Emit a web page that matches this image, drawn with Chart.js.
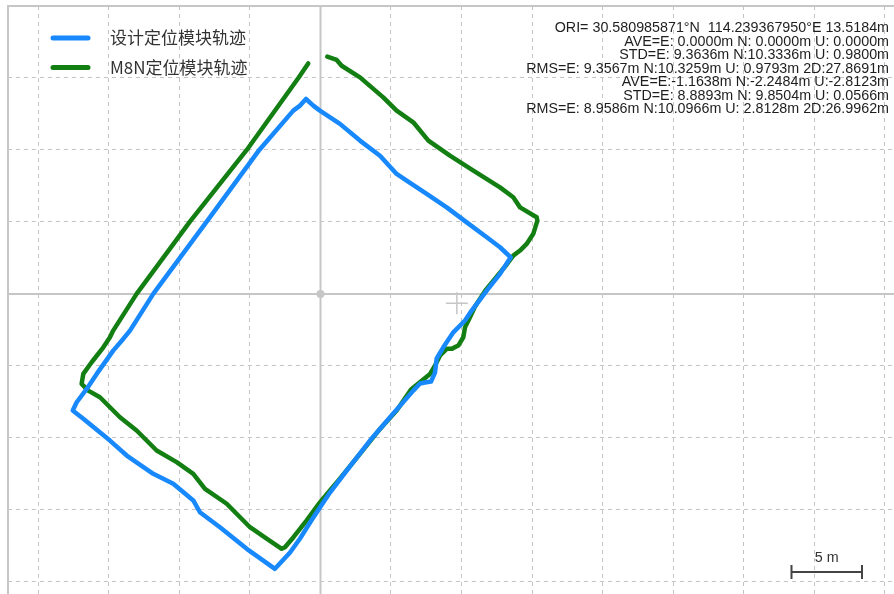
<!DOCTYPE html>
<html>
<head>
<meta charset="utf-8">
<script src="https://cdn.jsdelivr.net/npm/chart.js@4.4.0/dist/chart.umd.min.js"></script>
<style>
  html, body { margin: 0; padding: 0; background: #fff; overflow: hidden; }
  #wrap { width: 894px; height: 594px; }
</style>
</head>
<body>
<div id="wrap"><canvas id="trilha" width="894" height="594"></canvas></div>
<script>
(function () {

  const labels = ["设计定位模块轨迹", "M8N定位模块轨迹"];

  // trajetoria do modulo projetado (E / N em metros)
  const designE = [13.49, 12.73, 11.79, 10.72, 10.25, 9.42, 8.71, 8.24, 8.12, 7.84, 7.41, 7.06, 6.58,
    4.93, 3.51, 1.86, 0.67, -0.04, -0.74, -1.45, -2.16, -3.23, -5.23, -7.13, -8.55, -9.02, -10.44,
    -11.86, -13.74, -14.93, -16.82, -17.57, -17.29, -16.58, -15.87, -14.70, -13.99, -13.51, -11.86,
    -8.07, -4.34, -1.93, -1.45, -1.03, -0.51, -0.04, 1.38, 2.80, 4.22, 5.40, 6.11, 7.53, 8.95, 10.37,
    11.79, 12.73, 13.49];
  const designN = [2.54, 1.39, 0.23, -1.16, -1.85, -2.67, -3.71, -4.49, -5.47, -6.09, -6.16, -6.23, -6.72,
    -8.57, -10.19, -12.27, -13.80, -14.84, -15.88, -16.99, -17.97, -19.10, -17.71, -16.21, -15.17, -14.35,
    -13.19, -12.50, -11.23, -10.19, -8.68, -8.10, -7.53, -6.60, -5.56, -3.94, -3.13, -2.55, 0.00,
    5.02, 10.00, 12.73, 13.08, 13.54, 13.08, 12.73, 11.81, 10.65, 9.60, 8.33, 7.87, 6.94, 6.01, 4.97,
    3.93, 3.24, 2.54];

  // trajetoria do M8N
  const m8nE = [0.48, 1.15, 1.50, 2.80, 4.45, 5.40, 6.58, 7.65, 9.18, 10.84, 12.73, 13.67, 14.15, 15.33,
    15.38, 15.09, 14.62, 14.15, 13.67, 13.09, 12.38, 11.74, 10.96, 10.60, 10.25, 10.13, 9.77, 9.30, 8.95,
    8.48, 8.12, 7.77, 6.42, 5.40, 4.22, 2.80, 1.26, 0.67, -0.04, -0.98, -1.93, -2.52, -2.75, -3.82, -5.00,
    -6.65, -8.19, -9.02, -10.20, -11.62, -13.04, -14.22, -15.64, -16.47, -16.94, -16.82, -16.23, -15.40,
    -14.93, -14.70, -13.04, -9.26, -5.23, -1.57, -0.87];
  const m8nN = [16.48, 16.25, 15.85, 15.04, 13.65, 12.73, 11.92, 10.65, 9.60, 8.56, 7.40, 6.71, 6.01, 5.32,
    5.09, 4.17, 3.47, 3.01, 2.66, 1.90, 1.06, 0.30, -0.88, -1.63, -2.32, -3.01, -3.59, -3.82, -3.82,
    -4.28, -4.98, -5.56, -6.65, -8.10, -9.38, -11.11, -12.97, -13.66, -14.49, -15.74, -16.92, -17.60,
    -17.71, -17.01, -16.21, -14.58, -13.54, -12.50, -11.69, -10.88, -9.49, -8.57, -7.18, -6.72, -6.25,
    -5.56, -4.75, -3.71, -3.01, -2.55, 0.00, 5.02, 10.00, 15.00, 16.01];

  const origem = [0, 0];
  const centroM8N = [9.67, -0.65];

  const statLines = [
    "ORI= 30.580985871°N  114.239367950°E 13.5184m",
    "AVE=E: 0.0000m N: 0.0000m U: 0.0000m",
    "STD=E: 9.3636m N:10.3336m U: 0.9800m",
    "RMS=E: 9.3567m N:10.3259m U: 0.9793m 2D:27.8691m",
    "AVE=E:-1.1638m N:-2.2484m U:-2.8123m",
    "STD=E: 8.8893m N: 9.8504m U: 0.0566m",
    "RMS=E: 8.9586m N:10.0966m U: 2.8128m 2D:26.9962m"
  ];

  const escala = 5;   // metros por quadricula
  const xLim = [-22.16, 40.67];
  const yLim = [-20.85, 20.0];

  const AZUL = "#1888fd";
  const VERDE = "#137f13";
  const CINZA = "#c6c6c6";

  function pontos(es, ns) {
    return es.map((e, i) => ({ x: e, y: ns[i] }));
  }

  // eixos pela origem + moldura
  const moldura = {
    id: "moldura",
    beforeDatasetsDraw(chart) {
      const { ctx, chartArea: a, scales: { x, y } } = chart;
      const x0 = x.getPixelForValue(0);
      const y0 = y.getPixelForValue(0);
      ctx.save();
      ctx.strokeStyle = CINZA;
      ctx.lineWidth = 2;
      ctx.beginPath();
      ctx.moveTo(x0, a.top); ctx.lineTo(x0, a.bottom);
      ctx.moveTo(a.left, y0); ctx.lineTo(a.right, y0);
      ctx.stroke();
      ctx.strokeRect(a.left, a.top, a.width + 20, a.height + 20);
      ctx.restore();
    }
  };

  // legenda, estatisticas e barra de escala
  const textos = {
    id: "textos",
    afterDraw(chart) {
      const { ctx, chartArea: a, scales: { x } } = chart;
      ctx.save();

      const cores = [AZUL, VERDE];
      ctx.lineCap = "round";
      ctx.lineWidth = 5;
      ctx.font = "17px 'Noto Sans CJK SC'";
      ctx.textBaseline = "middle";
      labels.forEach((txt, i) => {
        const yy = 38 + i * 29.5;
        ctx.strokeStyle = cores[i];
        ctx.beginPath();
        ctx.moveTo(53, yy); ctx.lineTo(88, yy);
        ctx.stroke();
        ctx.fillStyle = "#333";
        ctx.fillText(txt, 110, yy);
      });

      ctx.font = "14.3px 'Liberation Sans'";
      ctx.textAlign = "right";
      ctx.fillStyle = "#1e1e1e";
      statLines.forEach((linha, i) => {
        ctx.fillText(linha, 889, 28.5 + i * 13.5);
      });

      const dir = a.right - 32;
      const larg = x.getPixelForValue(escala) - x.getPixelForValue(0);
      const esq = dir - larg;
      const yb = a.bottom - 22;
      ctx.strokeStyle = "#444";
      ctx.lineCap = "butt";
      ctx.lineWidth = 2;
      ctx.beginPath();
      ctx.moveTo(esq, yb); ctx.lineTo(dir, yb);
      ctx.moveTo(esq, yb - 7); ctx.lineTo(esq, yb + 7);
      ctx.moveTo(dir, yb - 7); ctx.lineTo(dir, yb + 7);
      ctx.stroke();
      ctx.textAlign = "center";
      ctx.fillStyle = "#333";
      ctx.fillText(escala + " m", (esq + dir) / 2, yb - 14);

      ctx.restore();
    }
  };

  const eixo = (lim) => ({
    type: "linear",
    min: lim[0],
    max: lim[1],
    ticks: { display: false, stepSize: escala, includeBounds: false },
    grid: { color: "#c4c4c4", lineWidth: 1, drawTicks: false },
    border: { display: false, dash: [4, 4] }
  });

  new Chart(document.getElementById("trilha"), {
    type: "scatter",
    data: {
      datasets: [
        {
          label: labels[0],
          data: pontos(designE, designN),
          showLine: true,
          borderColor: AZUL,
          borderWidth: 4.5,
          pointRadius: 0,
          borderJoinStyle: "round",
          borderCapStyle: "round"
        },
        {
          label: labels[1],
          data: pontos(m8nE, m8nN),
          showLine: true,
          borderColor: VERDE,
          borderWidth: 4.5,
          pointRadius: 0,
          borderJoinStyle: "round",
          borderCapStyle: "round"
        },
        {
          data: [{ x: centroM8N[0], y: centroM8N[1] }],
          pointStyle: "cross",
          pointRadius: 11,
          borderColor: CINZA,
          borderWidth: 1.5
        },
        {
          data: [{ x: origem[0], y: origem[1] }],
          pointStyle: "circle",
          pointRadius: 4,
          backgroundColor: CINZA,
          borderWidth: 0
        }
      ]
    },
    options: {
      responsive: false,
      animation: false,
      layout: { autoPadding: false, padding: { left: 8, top: 6, right: 0, bottom: 0 } },
      plugins: { legend: { display: false }, tooltip: { enabled: false } },
      scales: { x: eixo(xLim), y: eixo(yLim) }
    },
    plugins: [moldura, textos]
  });

})();
</script>
</body>
</html>
